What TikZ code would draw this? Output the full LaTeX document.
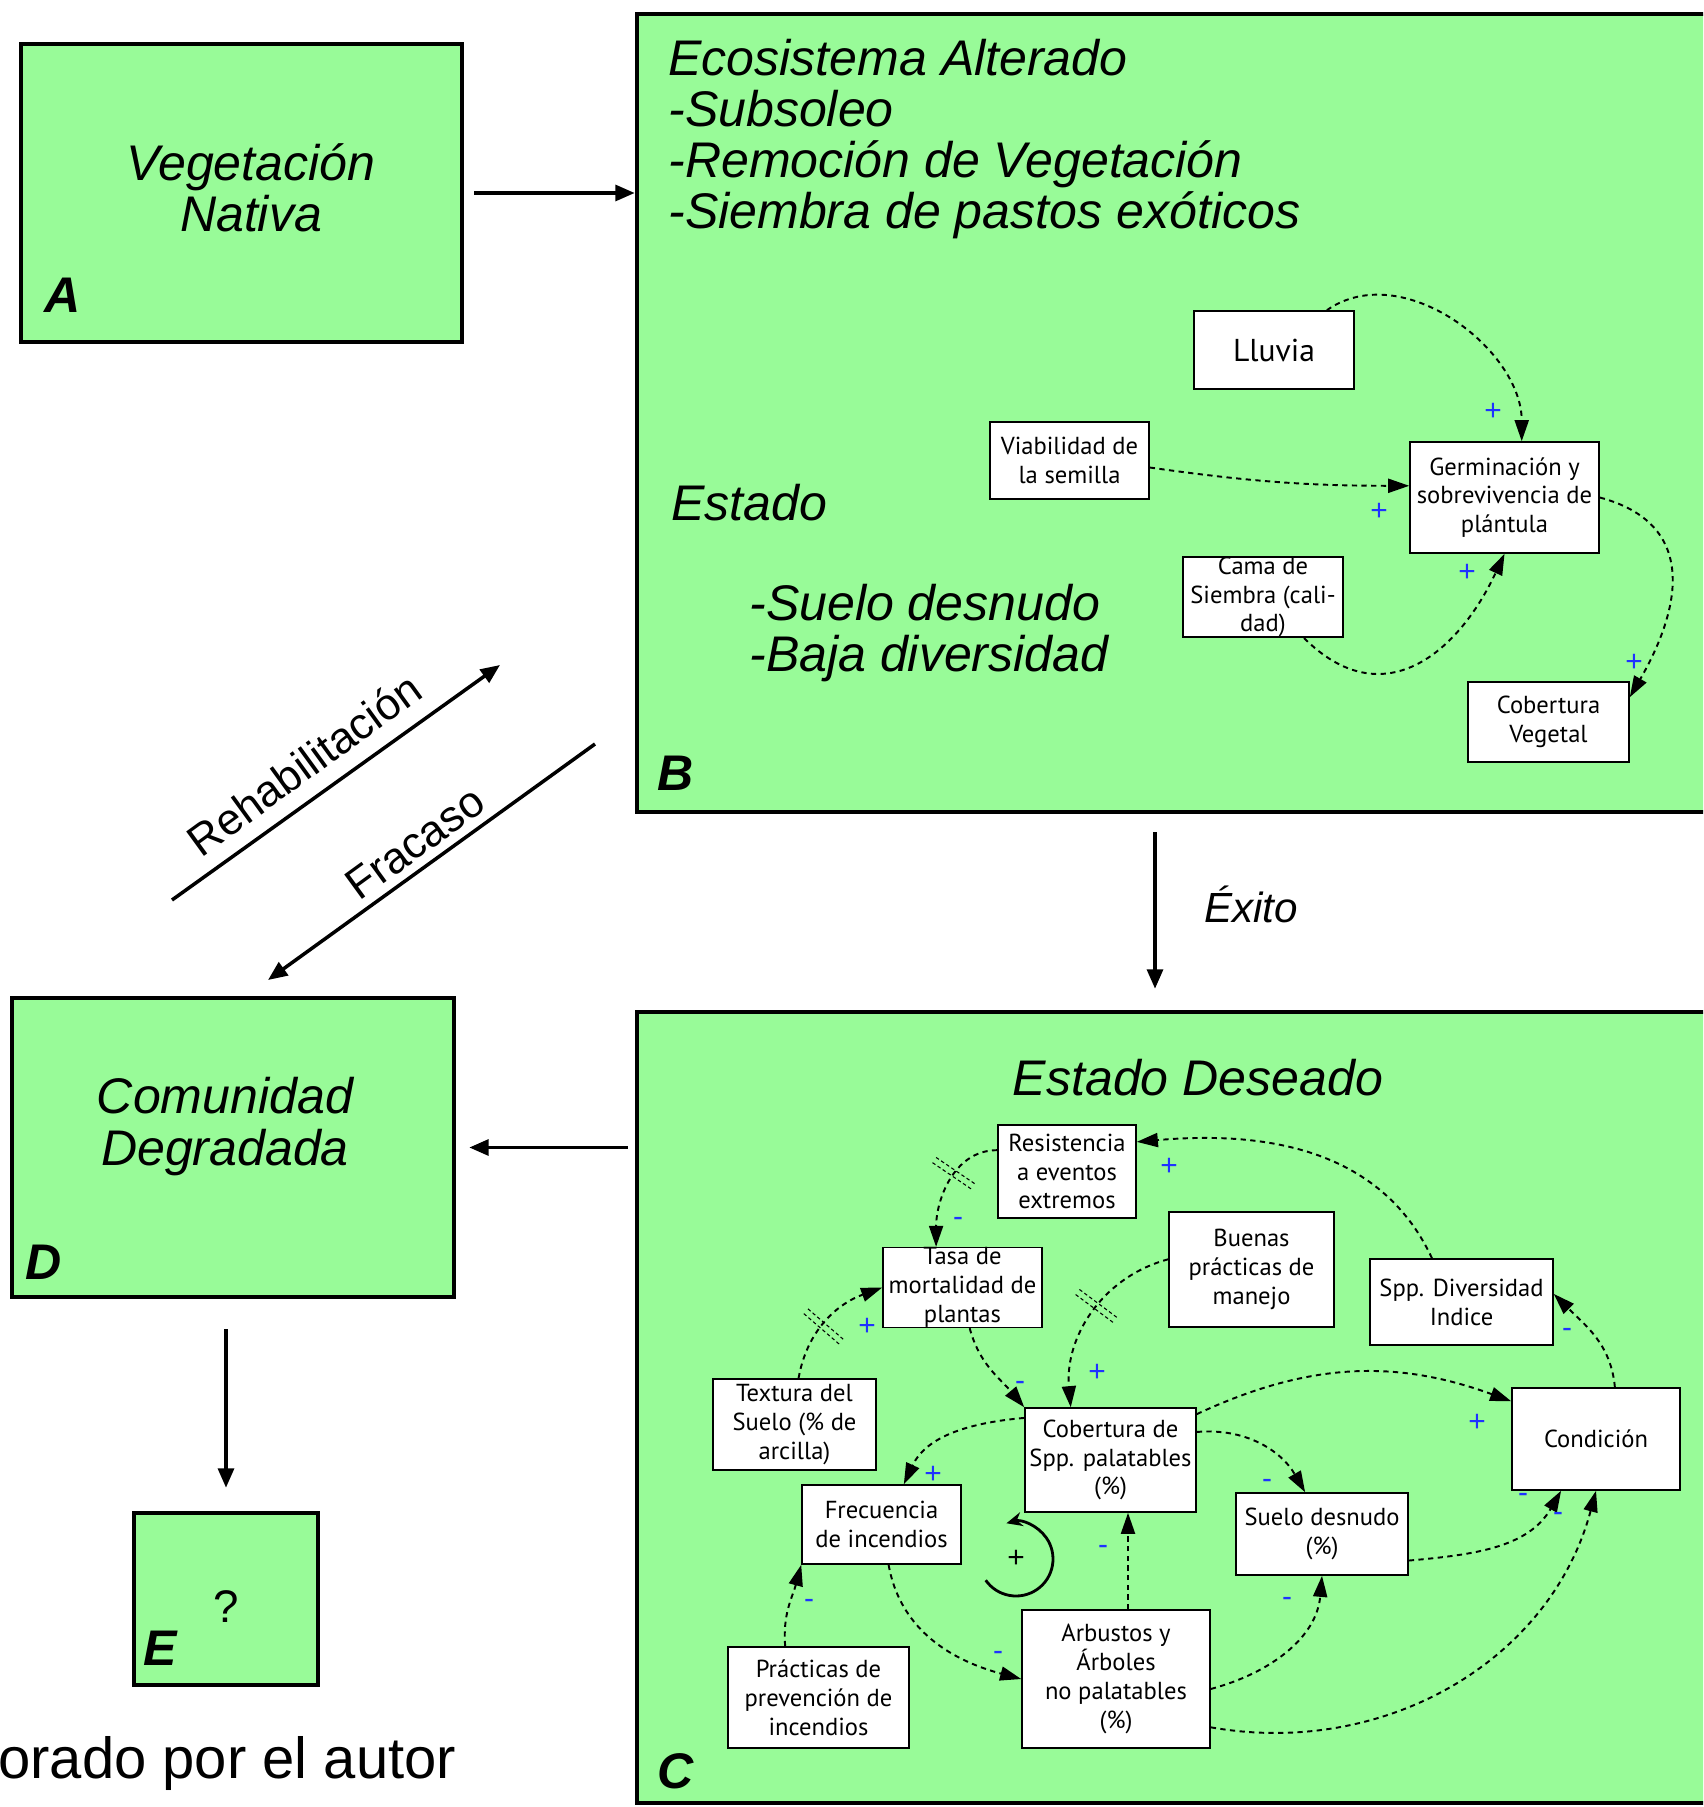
\documentclass[tikz,border=0pt]{standalone}
\usepackage{fontspec}
\setmainfont{Liberation Sans}
\newfontfamily\boxfont{PT Sans}
\usetikzlibrary{arrows.meta,decorations.markings}

\definecolor{stagegreen}{RGB}{152,251,152}
\definecolor{signblue}{RGB}{30,50,255}

\newcommand{\stfont}{\fontsize{28.5}{29}\selectfont\itshape}
\newcommand{\varfont}{\boxfont\fontsize{14}{16.4}\selectfont}

% boxes given by their corners, in pixels of the sketch
\newcommand{\stagebox}[5]{
  \node[stage, minimum width={(#4-#2)*0.02cm}, minimum height={(#5-#3)*0.02cm}]
    (#1) at ({(#2+#4)/2},{-(#3+#5)/2}) {};
}
\newcommand{\varbox}[6]{
  \node[var, minimum width={(#4-#2)*0.02cm}, minimum height={(#5-#3)*0.02cm}]
    (#1) at ({(#2+#4)/2},{-(#3+#5)/2}) {#6};
}

\tikzset{
  stage/.style={draw, line width=2.6pt, fill=stagegreen, inner sep=0pt},
  var/.style={draw, line width=0.9pt, fill=white, align=center, inner sep=0pt, font=\varfont},
  txt/.style={font=\stfont, inner sep=0pt},
  flow/.style={line width=2pt, -{Triangle[length=11pt,width=9pt]}},
  flowtext/.style={font=\fontsize{25}{25}\selectfont, rotate=36, inner sep=0pt},
  dep/.style={line width=1.1pt, dash pattern=on 3pt off 2.5pt, -{Triangle[length=12pt,width=8pt]}},
  sign/.style={text=signblue, font=\fontsize{17}{17}\selectfont, inner sep=0pt},
  lag/.style={postaction={decorate, decoration={markings, mark=at position #1 with {
    \draw[-, solid, line width=0.6pt, dash pattern=on 2pt off 1.5pt]
      (-1.8pt,-14pt) -- (-1.8pt,14pt) (1.8pt,-14pt) -- (1.8pt,14pt);}}}}
}

\begin{document}
\begin{tikzpicture}[x=0.02cm, y=0.02cm]
\useasboundingbox (0,0) rectangle (1703,-1807);

% states
\begin{scope}
  \clip (0,0) rectangle (1703,-1807);
  \stagebox{A}{21}{44}{462}{342}
  \stagebox{B}{637}{14}{1760}{812}
  \stagebox{C}{637}{1012}{1760}{1803}
  \stagebox{D}{12}{998}{454}{1297}
  \stagebox{E}{134}{1513}{318}{1685}
\end{scope}

% texts of the states
\node[txt, anchor=base] (veg) at (251,-181) {Vegetación};
\node[txt, anchor=base] (nat) at (251,-232) {Nativa};
\foreach \t [count=\i] in {Ecosistema Alterado,-Subsoleo,-Remoción de Vegetación,-Siembra de pastos exóticos}
  \node[txt, anchor=base west] (alt\i) at (668,{-76-51*(\i-1)}) {\t};
\node[txt, anchor=base west] (estado) at (671,-520) {Estado};
\node[txt, anchor=base west] (estado1) at (749,-620) {-Suelo desnudo};
\node[txt, anchor=base west] (estado2) at (749,-671) {-Baja diversidad};
\node[txt, anchor=base] (deseado) at (1198,-1095) {Estado Deseado};
\node[txt, anchor=base] (comu) at (225,-1113) {Comunidad};
\node[txt, anchor=base] (degr) at (225,-1165) {Degradada};
\foreach \n/\x/\y in {A/44/313, B/657/790, C/657/1788, D/25/1279, E/143/1665}
  \node[txt, font=\stfont\bfseries, anchor=base west] (tag\n) at (\x,-\y) {\n};
\node[inner sep=0pt, font=\fontsize{26}{26}\selectfont, anchor=base] (query) at (226,-1622) {?};
\node[inner sep=0pt, font=\fontsize{33}{33}\selectfont, anchor=base west] (autor) at (-2,-1778) {orado por el autor};

% transitions
\draw[flow, shorten <=0.2cm] (A.east) -- (A.east -| B.west);
\coordinate (exito) at (1155,0);
\draw[flow, shorten <=0.36cm, shorten >=0.42cm] (B.south -| exito) -- (C.north -| exito);
\node[inner sep=0pt, font=\fontsize{24}{24}\selectfont\itshape, anchor=base west] (exitotext) at (1204,-922) {Éxito};
\draw[flow, shorten <=0.14cm, shorten >=0.26cm] (C.west |- D.east) -- (D.east);
\draw[flow, shorten <=0.6cm, shorten >=0.46cm] (D.south -| E.north) -- (E.north);
\coordinate (rehab0) at (172,-900);
\coordinate (rehab1) at (500,-665);
\coordinate (fracaso0) at (595,-744);
\coordinate (fracaso1) at (268,-980);
\draw[flow] (rehab0) -- (rehab1);
\draw[flow] (fracaso0) -- (fracaso1);
\node[flowtext] (rehabtext) at (304,-764) {Rehabilitación};
\node[flowtext] (fracasotext) at (415,-843) {Fracaso};

% variables of B
\varbox{Lluvia}{1194}{311}{1354}{389}{\fontsize{18}{20}\selectfont Lluvia}
\varbox{Viab}{990}{422}{1149}{499}{Viabilidad de\\la semilla}
\varbox{Germ}{1410}{442}{1599}{553}{Germinación y\\sobrevivencia de\\plántula}
\varbox{Cama}{1183}{558}{1343}{636}{Cama de\\Siembra (cali-\\dad)}
\varbox{CobVeg}{1468}{682}{1629}{762}{Cobertura\\Vegetal}

\draw[dep] (Lluvia.37) to[out=35, in=90] (Germ.73);
\draw[dep] (Viab.-5) to[bend right=4] (Germ.173);
\draw[dep] (Cama.-45) to[out=-45, in=-115, looseness=1.3] (Germ.south);
\draw[dep] (Germ.east) to[out=-15, in=60, looseness=1.3] (CobVeg.17);

% variables of C
\varbox{Res}{998}{1125}{1136}{1218}{Resistencia\\a eventos\\extremos}
\varbox{Tasa}{883}{1248}{1042}{1327}{Tasa de\\mortalidad de\\plantas}
\varbox{Buenas}{1169}{1212}{1334}{1327}{Buenas\\prácticas de\\manejo}
\varbox{SppDiv}{1370}{1259}{1553}{1345}{Spp. Diversidad\\Indice}
\varbox{Textura}{713}{1379}{876}{1470}{Textura del\\Suelo (\% de\\arcilla)}
\varbox{CobPal}{1025}{1408}{1196}{1512}{Cobertura de\\Spp. palatables\\(\%)}
\varbox{Cond}{1512}{1388}{1680}{1490}{Condición}
\varbox{Frec}{802}{1485}{961}{1564}{Frecuencia\\de incendios}
\varbox{Suelo}{1236}{1493}{1408}{1575}{Suelo desnudo\\(\%)}
\varbox{Arb}{1022}{1610}{1210}{1748}{Arbustos y\\Árboles\\no palatables\\(\%)}
\varbox{Prev}{728}{1647}{909}{1748}{Prácticas de\\prevención de\\incendios}

\draw[dep, lag=0.4] (Res.163) to[out=180, in=90] (Tasa.123);
\draw[dep, lag=0.45] (Textura.85) to[out=80, in=200] (Tasa.west);
\draw[dep] (Tasa.-80) to[out=-75, in=130] (CobPal.north west);
\draw[dep, lag=0.45] (Buenas.173) to[out=195, in=95] (CobPal.127);
\draw[dep] (SppDiv.124) to[out=115, in=5] (Res.23);
\draw[dep] (Cond.70) to[out=95, in=-45] (SppDiv.5);
\draw[dep] (CobPal.28) to[out=25, in=160] (Cond.156);
\draw[dep] (CobPal.18) to[out=5, in=120] (Suelo.112);
\draw[dep] (CobPal.154) to[out=185, in=65] (Frec.61);
\draw[dep] (Suelo.-17) to[out=5, in=-120] (Cond.-124);
\draw[dep] (Arb.-27) to[out=-10, in=-105] (Cond.south);
\draw[dep] (Arb.-6) to[out=15, in=-95] (Suelo.south);
\coordinate (arbup) at (1128,0);
\draw[dep] (Arb.north -| arbup) -- (CobPal.south -| arbup);
\draw[dep] (Frec.-80) to[out=-80, in=165] (Arb.west);
\draw[dep] (Prev.123) to[out=95, in=-105] (Frec.south west);

% polarity of each link
\foreach \x/\y/\s [count=\i] in {1493/412/+, 1379/512/+, 1467/573/+, 1634/663/+,
    958/1222/-, 867/1327/+, 1020/1386/-, 1097/1373/+, 1169/1167/+, 1567/1333/-,
    1477/1423/+, 1267/1484/-, 933/1475/+, 1523/1498/-, 1558/1517/-, 1287/1602/-,
    1103/1550/-, 998/1656/-, 809/1604/-}
  \node[sign] (sign\i) at (\x,-\y) {\s};

% reinforcing loop
\coordinate (loop) at (1016,-1559);
\draw[line width=1.6pt, -{Stealth[length=9pt,width=8pt]}] (loop) ++(215:0.74cm) arc[start angle=215, end angle=465, radius=0.74cm];
\node[inner sep=0pt, font=\fontsize{17}{17}\selectfont] (loopsign) at (loop) {+};
\end{tikzpicture}
\end{document}
